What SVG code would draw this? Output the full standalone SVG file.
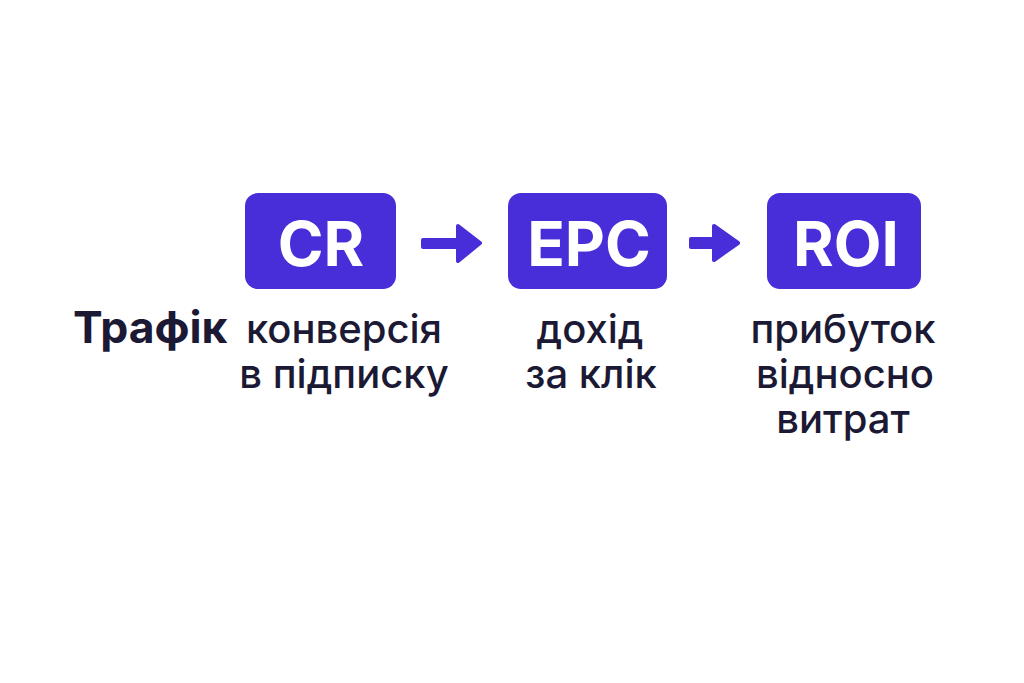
<svg xmlns="http://www.w3.org/2000/svg" width="1024" height="683" viewBox="0 0 1024 683">
<style>
.box{fill:#472ED8}
.code{font-family:Inter,"Liberation Sans",sans-serif;font-weight:700;font-size:62px;fill:#fff;text-anchor:middle}
.lbl{font-family:Inter,"Noto Sans",sans-serif;font-weight:500;font-size:40px;fill:#1B1934;text-anchor:middle}
.title{font-family:Inter,"Noto Sans",sans-serif;font-weight:700;font-size:44.5px;fill:#1B1934}
.arr{fill:#472ED8;stroke:#472ED8;stroke-linejoin:round;stroke-linecap:round}
</style>
<rect width="1024" height="683" fill="#fff"/>
<g id="traffic"><text class="title" x="73" y="343">Трафік</text></g>
<g id="cr">
<rect class="box" x="245" y="193" width="151" height="96" rx="13"/>
<text class="code" x="321" y="266">CR</text>
<text class="lbl" x="344" y="343">конверсія</text>
<text class="lbl" x="344" y="388">в підписку</text>
</g>
<g id="epc">
<rect class="box" x="508" y="193" width="159" height="96" rx="13"/>
<text class="code" x="589" y="266">EPC</text>
<text class="lbl" x="590" y="343">дохід</text>
<text class="lbl" x="591" y="388">за клік</text>
</g>
<g id="roi">
<rect class="box" x="767" y="193" width="154" height="96" rx="13"/>
<text class="code" x="846" y="266">ROI</text>
<text class="lbl" x="843" y="343">прибуток</text>
<text class="lbl" x="845" y="388">відносно</text>
<text class="lbl" x="843" y="433">витрат</text>
</g>
<g id="connectors">
<path class="arr" stroke-width="4" d="M423 240 H458 V226 L480 243 L458 261 V247 H423 Z"/>
<path class="arr" stroke-width="4" d="M691 239 H714 V226 L738 243 L714 260 V247 H691 Z"/>
</g>
</svg>
